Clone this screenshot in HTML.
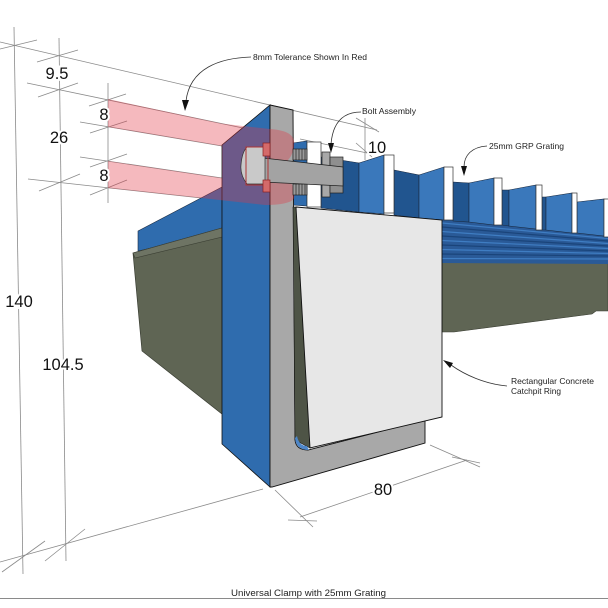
<!DOCTYPE html>
<html><head><meta charset="utf-8">
<style>
html,body{margin:0;padding:0;background:#fff;}
svg{display:block;}
text{font-family:"Liberation Sans",Arial,sans-serif;}
</style></head><body>
<svg width="608" height="608" viewBox="0 0 608 608" xmlns="http://www.w3.org/2000/svg">
<rect width="608" height="608" fill="#fff"/>

<!-- dimension lines -->
<g stroke="#8a8a8a" stroke-width="0.8" fill="none">
<line x1="14" y1="27" x2="23" y2="574"/>
<line x1="59" y1="38" x2="66" y2="561"/>
<line x1="108" y1="83" x2="108" y2="203"/>
<line x1="0" y1="42" x2="377" y2="130"/>
<line x1="27" y1="83" x2="243" y2="128"/>
<line x1="80" y1="122" x2="222" y2="146"/>
<line x1="80" y1="157" x2="222" y2="178"/>
<line x1="28" y1="179" x2="265" y2="205"/>
<line x1="0" y1="562" x2="263" y2="489"/>
<line x1="300" y1="139" x2="372" y2="154"/>
<line x1="365" y1="118" x2="365" y2="160"/>
<!-- ticks -->
<line x1="0" y1="49" x2="37" y2="40"/>
<line x1="37" y1="62" x2="78" y2="50"/>
<line x1="38" y1="97" x2="78" y2="83"/>
<line x1="89" y1="106" x2="126" y2="94"/>
<line x1="90" y1="133" x2="127" y2="121"/>
<line x1="90" y1="167" x2="127" y2="154"/>
<line x1="39" y1="191" x2="80" y2="174"/>
<line x1="90" y1="195" x2="127" y2="180"/>
<line x1="2" y1="572" x2="45" y2="541"/>
<line x1="45" y1="561" x2="85" y2="529"/>
<line x1="356" y1="118" x2="379" y2="132"/>
<line x1="356" y1="143" x2="372" y2="157"/>
<!-- 80 dim -->
<line x1="300" y1="517" x2="467" y2="460"/>
<line x1="275" y1="490" x2="313" y2="527"/>
<line x1="430" y1="445" x2="480" y2="467"/>
<line x1="288" y1="520" x2="317" y2="521"/>
<line x1="452" y1="457" x2="480" y2="463"/>
</g>

<!-- right olive slab -->
<polygon points="442,262 608,263 608,311 596,311 592,314 454,332 442,332" fill="#5f6554" stroke="#3a3e33" stroke-width="0.6"/>
<!-- mesh -->
<polygon points="442,219 608,235 608,264 442,263" fill="#2a5a97"/>
<g stroke-width="1.2" fill="none">
<line x1="442" y1="223" x2="608" y2="238.5" stroke="#3f7dc2"/>
<line x1="442" y1="227" x2="608" y2="241" stroke="#1a447a"/>
<line x1="442" y1="231.5" x2="608" y2="243.5" stroke="#3f7dc2"/>
<line x1="442" y1="236" x2="608" y2="246" stroke="#1a447a"/>
<line x1="442" y1="240.5" x2="608" y2="248.5" stroke="#3f7dc2"/>
<line x1="442" y1="245" x2="608" y2="251" stroke="#1a447a"/>
<line x1="442" y1="249.5" x2="608" y2="253.5" stroke="#3f7dc2"/>
<line x1="442" y1="254" x2="608" y2="256" stroke="#1a447a"/>
<line x1="442" y1="258.5" x2="608" y2="259" stroke="#3f7dc2"/>
</g>

<!-- grating panels -->
<g stroke="#1a2a40" stroke-width="0.6">
<polygon points="293,143 307,141 307,206 293,205" fill="#2f6cae"/>
<polygon points="321,157 359,163 359,212 321,208" fill="#21558f"/>
<polygon points="359,163 384,155 384,214 359,212" fill="#3a78bb"/>
<polygon points="394,170 419,175 419,218 394,215" fill="#21558f"/>
<polygon points="419,175 444,167 444,220 419,218" fill="#3a78bb"/>
<polygon points="453,182 469,183 469,222 453,221" fill="#21558f"/>
<polygon points="469,183 494,178 494,225 469,222" fill="#3a78bb"/>
<polygon points="502,190 509,190 509,226 502,225" fill="#21558f"/>
<polygon points="509,190 536,185 536,229 509,226" fill="#3a78bb"/>
<polygon points="542,197 546,197 546,230 542,230" fill="#21558f"/>
<polygon points="546,197 572,193 572,233 546,230" fill="#3a78bb"/>
<polygon points="577,202 604,199 604,236 577,233" fill="#3a78bb"/>
</g>
<g fill="#fff" stroke="#333" stroke-width="0.7">
<rect x="307" y="142" width="14" height="65"/>
<rect x="384" y="155" width="10" height="58"/>
<rect x="444" y="167" width="9" height="53"/>
<rect x="494" y="178" width="8" height="47"/>
<rect x="536" y="185" width="6" height="45"/>
<rect x="572" y="193" width="5" height="40"/>
<rect x="604" y="199" width="5" height="38"/>
</g>

<!-- left olive slab & blue wing -->
<polygon points="138,231 222,187 222,232 138,251" fill="#2f6cae" stroke="#1a2a40" stroke-width="0.6"/>
<polygon points="133,253 222,228 222,414 142,351" fill="#5f6554" stroke="#3a3e33" stroke-width="0.7"/>
<polygon points="133,253 222,228 222,237 135,258" fill="#6e7464" stroke="#3a3e33" stroke-width="0.6"/>

<!-- clamp blue left face -->
<polygon points="222,145 270,105 270,487 222,444" fill="#2f6cae" stroke="#111" stroke-width="0.8"/>

<!-- grey L profile -->
<path d="M270,105 L293,110 L295,440 Q296,450 308,450 L425,420 L425,443 L272,487 L270,487 Z" fill="#a8a8a8" stroke="#111" stroke-width="0.9"/>
<!-- dark gap -->
<polygon points="293,207 298,207 310,448 295,440" fill="#4e5446" stroke="#111" stroke-width="0.6"/>
<path d="M295,438 Q296,450 309,450 L307,446 Q299,446 297,436 Z" fill="#4d86c8"/>
<!-- concrete face -->
<polygon points="296,207 442,220 442,417 310,448" fill="#e7e7e7" stroke="#111" stroke-width="0.9"/>

<!-- pink tolerance bands -->
<g fill="rgb(226,55,69)" fill-opacity="0.35">
<polygon points="108,99 222,123.6 222,146 108,127"/>
<polygon points="108,161 222,178 222,200.3 108,188"/>
<path d="M222,123.6 L270,129 C285,130 293,134 294,141 C295,148 292,156 288,160 L288,180 C293,184 296,192 294,198 C292,203 280,205 265,205 L222,200.3 Z"/>
</g>

<!-- bolt assembly -->
<g stroke="#222" stroke-width="0.7">
<rect x="293" y="149" width="14" height="11" fill="#9a9a9a"/>
<rect x="293" y="184" width="14" height="11" fill="#9a9a9a"/>
<line x1="296" y1="149" x2="296" y2="160"/><line x1="299" y1="149" x2="299" y2="160"/><line x1="302" y1="149" x2="302" y2="160"/><line x1="305" y1="149" x2="305" y2="160"/>
<line x1="296" y1="184" x2="296" y2="195"/><line x1="299" y1="184" x2="299" y2="195"/><line x1="302" y1="184" x2="302" y2="195"/><line x1="305" y1="184" x2="305" y2="195"/>
<rect x="322" y="152" width="8" height="45" fill="#a8a8a8"/>
<rect x="330" y="157" width="13" height="36" fill="#8f8f8f"/>
<polygon points="263,158 343,167 343,186 263,182" fill="#a3a3a3"/>
<path d="M247,147 L265,147 L265,184 L247,184 Q240,175 241,165 Q242,152 247,147 Z" fill="#c9c9c9" stroke="#333"/>
<rect x="246" y="147" width="22" height="38" fill="none" stroke="#b03535" stroke-width="1"/>
<rect x="263" y="143" width="7" height="13" fill="#d46a6a" stroke="#8a2020"/>
<rect x="263" y="180" width="7" height="12" fill="#d46a6a" stroke="#8a2020"/>
</g>

<!-- annotation arrows -->
<g stroke="#333" stroke-width="0.8" fill="none">
<path d="M251,57 C220,58 190,68 186,101"/>
<path d="M361,112 C345,112 333,120 331,144"/>
<path d="M487,146 C472,147 464,155 464,167"/>
<path d="M507,386 C485,384 465,375 451,365"/>
</g>
<g fill="#111">
<polygon points="182,100 189,100 185,111"/>
<polygon points="328,143 334,143 331,153"/>
<polygon points="461,166 467,166 464,176"/>
<polygon points="443,360 453,363 450,368"/>
</g>

<!-- dimension labels -->
<g font-size="16.5" fill="#111" text-anchor="middle" stroke="#fff" stroke-width="4" paint-order="stroke">
<text x="57" y="79">9.5</text>
<text x="59" y="143">26</text>
<text x="104" y="120">8</text>
<text x="104" y="181">8</text>
<text x="19" y="307">140</text>
<text x="63" y="370">104.5</text>
<text x="377" y="153">10</text>
<text x="383" y="495">80</text>
</g>

<!-- annotation text -->
<g font-size="8.5" fill="#222">
<text x="253" y="60" textLength="114" lengthAdjust="spacingAndGlyphs">8mm Tolerance Shown In Red</text>
<text x="362" y="114" textLength="54" lengthAdjust="spacingAndGlyphs">Bolt Assembly</text>
<text x="489" y="149" textLength="75" lengthAdjust="spacingAndGlyphs">25mm GRP Grating</text>
<text x="511" y="384" textLength="83" lengthAdjust="spacingAndGlyphs">Rectangular Concrete</text>
<text x="511" y="394" textLength="50" lengthAdjust="spacingAndGlyphs">Catchpit Ring</text>
<text x="231" y="596" font-size="9" textLength="155" lengthAdjust="spacingAndGlyphs">Universal Clamp with 25mm Grating</text>
</g>
<line x1="0" y1="598.5" x2="608" y2="598.5" stroke="#8a8a8a" stroke-width="1"/>
</svg>
</body></html>
